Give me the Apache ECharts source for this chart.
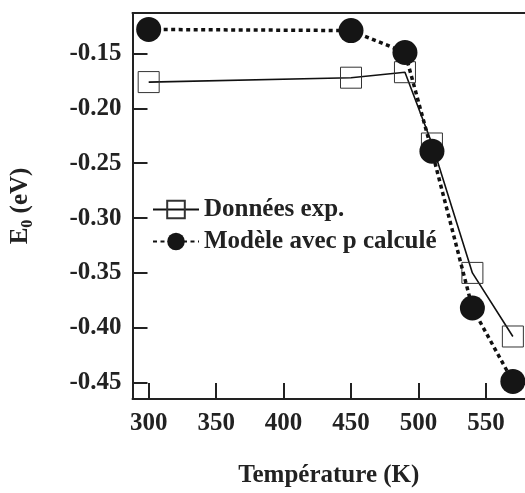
<!DOCTYPE html>
<html>
<head>
<meta charset="utf-8">
<style>
html,body{margin:0;padding:0;background:#fff;}
#chart{width:525px;height:493px;}
</style>
<script src="https://cdn.jsdelivr.net/npm/echarts@6/dist/echarts.min.js"></script>
</head>
<body>
<div id="chart"></div>
<script>
var temperatures = [300, 450, 490, 510, 540, 570];
var expValues = [-0.176, -0.172, -0.167, -0.232, -0.350, -0.408];
var modelValues = [-0.128, -0.129, -0.149, -0.239, -0.382, -0.449];
var xTicks = [300, 350, 400, 450, 500, 550];
var yTicks = [-0.45, -0.40, -0.35, -0.30, -0.25, -0.20, -0.15];
var seriesNames = ['Données exp.', 'Modèle avec p calculé'];

var FONT = '"Liberation Serif", "DejaVu Serif", serif';
var INK = '#222';

function pairs(xs, ys) {
  return xs.map(function (x, i) { return [x, ys[i]]; });
}

var chart = echarts.init(document.getElementById('chart'), null, {renderer: 'canvas'});
chart.setOption({
  animation: false,
  backgroundColor: '#fff',
  grid: {left: 131, top: 13, right: 0, bottom: 94, containLabel: false},
  legend: {
    left: 147, top: 192, orient: 'vertical',
    itemWidth: 46, itemHeight: 22, itemGap: 7,
    textStyle: {fontFamily: FONT, fontWeight: 'bold', fontSize: 25, color: INK},
    data: seriesNames
  },
  xAxis: [{
    type: 'value', min: 288, max: 579,
    name: 'Température (K)', nameLocation: 'middle', nameGap: 64,
    nameTextStyle: {fontFamily: FONT, fontWeight: 'bold', fontSize: 25, color: INK},
    splitLine: {show: false},
    axisLine: {show: true, onZero: false, lineStyle: {color: INK, width: 2}},
    axisTick: {show: true, inside: true, length: 16, customValues: xTicks, lineStyle: {color: INK, width: 2}},
    axisLabel: {customValues: xTicks, margin: 12, fontFamily: FONT, fontWeight: 'bold', fontSize: 25, color: INK}
  }, {
    type: 'value', position: 'top', min: 288, max: 579,
    splitLine: {show: false},
    axisLine: {show: true, onZero: false, lineStyle: {color: INK, width: 2}},
    axisTick: {show: false}, axisLabel: {show: false}
  }],
  yAxis: {
    type: 'value', min: -0.465, max: -0.113,
    name: '{a|E}{b|0}{a| (eV)}', nameLocation: 'middle', nameGap: 97,
    nameTextStyle: {
      fontFamily: FONT, fontWeight: 'bold', fontSize: 25, color: INK,
      rich: {
        a: {fontFamily: FONT, fontWeight: 'bold', fontSize: 25, color: INK, lineHeight: 30, verticalAlign: 'middle'},
        b: {fontFamily: FONT, fontWeight: 'bold', fontSize: 16, color: INK, lineHeight: 30, verticalAlign: 'bottom', padding: [10, 0, 0, 0]}
      }
    },
    splitLine: {show: false},
    axisLine: {show: true, onZero: false, lineStyle: {color: INK, width: 2}},
    axisTick: {show: true, inside: true, length: 15, customValues: yTicks, lineStyle: {color: INK, width: 2}},
    axisLabel: {
      customValues: yTicks, margin: 11, fontFamily: FONT, fontWeight: 'bold', fontSize: 25, color: INK,
      formatter: function (v) { return v.toFixed(2); }
    }
  },
  series: [{
    name: seriesNames[0], type: 'line', data: pairs(temperatures, expValues),
    symbol: 'rect', symbolSize: 21, z: 2,
    lineStyle: {color: '#111', width: 1.6, type: 'solid'},
    itemStyle: {color: 'none', borderColor: '#333', borderWidth: 1}
  }, {
    name: seriesNames[1], type: 'line', data: pairs(temperatures, modelValues),
    symbol: 'circle', symbolSize: 25, z: 3,
    lineStyle: {color: '#111', width: 3.5, type: [4, 3.5]},
    itemStyle: {color: '#151515'}
  }]
});
</script>
</body>
</html>
